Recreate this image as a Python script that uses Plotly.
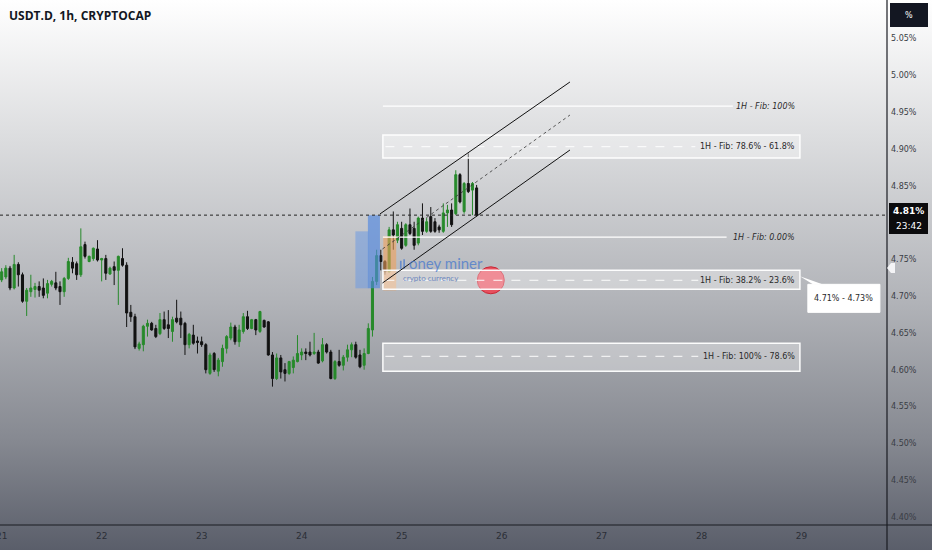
import base64
import plotly.graph_objects as go

# ---------------- data ----------------
title_text = "USDT.D, 1h, CRYPTOCAP"
day_labels = ["21", "22", "23", "24", "25", "26", "27", "28", "29"]
day_hours = [0, 24, 48, 72, 96, 120, 144, 168, 192]

opens = [4.722, 4.726, 4.738, 4.711, 4.743, 4.729, 4.693, 4.706, 4.709, 4.713,
         4.711, 4.704, 4.716, 4.718, 4.713, 4.706, 4.724, 4.746, 4.744, 4.729,
         4.770, 4.747, 4.751, 4.764, 4.749, 4.751, 4.730, 4.740, 4.735, 4.751,
         4.742, 4.678, 4.672, 4.629, 4.634, 4.659, 4.663, 4.656, 4.649, 4.668,
         4.661, 4.652, 4.670, 4.670, 4.663, 4.634, 4.647, 4.639, 4.638, 4.634,
         4.595, 4.622, 4.598, 4.611, 4.629, 4.643, 4.658, 4.638, 4.652, 4.672,
         4.656, 4.668, 4.652, 4.667, 4.665, 4.620, 4.588, 4.616, 4.600, 4.595,
         4.603, 4.611, 4.620, 4.624, 4.624, 4.622, 4.624, 4.612, 4.634, 4.624,
         4.588, 4.611, 4.606, 4.617, 4.627, 4.634, 4.620, 4.606, 4.622, 4.654,
         4.720, 4.755, 4.747, 4.733, 4.790, 4.776, 4.792, 4.769, 4.797, 4.792,
         4.772, 4.806, 4.788, 4.808, 4.801, 4.794, 4.788, 4.813, 4.817, 4.812,
         4.865, 4.815, 4.853, 4.844, 4.847]
highs = [4.738, 4.742, 4.741, 4.756, 4.746, 4.732, 4.711, 4.729, 4.718, 4.720,
         4.724, 4.722, 4.722, 4.733, 4.720, 4.726, 4.752, 4.753, 4.747, 4.792,
         4.774, 4.755, 4.766, 4.776, 4.752, 4.756, 4.740, 4.747, 4.755, 4.765,
         4.746, 4.688, 4.676, 4.638, 4.661, 4.668, 4.665, 4.661, 4.677, 4.679,
         4.681, 4.672, 4.695, 4.679, 4.665, 4.650, 4.661, 4.645, 4.645, 4.636,
         4.623, 4.624, 4.616, 4.634, 4.647, 4.664, 4.661, 4.661, 4.677, 4.680,
         4.669, 4.669, 4.680, 4.668, 4.666, 4.624, 4.622, 4.620, 4.609, 4.612,
         4.618, 4.647, 4.629, 4.629, 4.638, 4.650, 4.627, 4.643, 4.636, 4.627,
         4.613, 4.627, 4.620, 4.634, 4.637, 4.638, 4.627, 4.629, 4.663, 4.726,
         4.763, 4.763, 4.749, 4.794, 4.815, 4.801, 4.801, 4.799, 4.819, 4.801,
         4.808, 4.826, 4.806, 4.821, 4.806, 4.797, 4.826, 4.824, 4.826, 4.871,
         4.867, 4.855, 4.894, 4.855, 4.851]
lows = [4.719, 4.723, 4.708, 4.709, 4.713, 4.691, 4.673, 4.699, 4.698, 4.699,
        4.697, 4.697, 4.713, 4.708, 4.688, 4.699, 4.722, 4.731, 4.722, 4.726,
        4.751, 4.746, 4.748, 4.747, 4.720, 4.722, 4.729, 4.715, 4.688, 4.740,
        4.658, 4.665, 4.628, 4.626, 4.625, 4.645, 4.653, 4.643, 4.647, 4.654,
        4.643, 4.638, 4.663, 4.643, 4.620, 4.629, 4.634, 4.622, 4.631, 4.595,
        4.593, 4.597, 4.591, 4.604, 4.622, 4.640, 4.634, 4.631, 4.649, 4.654,
        4.655, 4.647, 4.650, 4.657, 4.619, 4.577, 4.586, 4.588, 4.584, 4.593,
        4.595, 4.610, 4.613, 4.613, 4.618, 4.620, 4.608, 4.610, 4.622, 4.587,
        4.586, 4.604, 4.599, 4.611, 4.617, 4.615, 4.602, 4.600, 4.621, 4.645,
        4.715, 4.735, 4.729, 4.732, 4.763, 4.772, 4.763, 4.767, 4.783, 4.763,
        4.769, 4.783, 4.786, 4.786, 4.786, 4.786, 4.786, 4.794, 4.794, 4.810,
        4.826, 4.812, 4.840, 4.810, 4.808]
closes = [4.733, 4.738, 4.711, 4.743, 4.729, 4.693, 4.708, 4.711, 4.713, 4.708,
          4.701, 4.717, 4.720, 4.711, 4.706, 4.724, 4.747, 4.738, 4.729, 4.767,
          4.754, 4.754, 4.765, 4.749, 4.751, 4.731, 4.738, 4.735, 4.754, 4.742,
          4.677, 4.672, 4.631, 4.635, 4.659, 4.663, 4.654, 4.645, 4.668, 4.656,
          4.656, 4.668, 4.665, 4.661, 4.634, 4.648, 4.636, 4.637, 4.634, 4.600,
          4.620, 4.600, 4.613, 4.629, 4.645, 4.658, 4.638, 4.654, 4.672, 4.656,
          4.668, 4.654, 4.679, 4.658, 4.620, 4.588, 4.616, 4.597, 4.595, 4.611,
          4.613, 4.622, 4.624, 4.622, 4.620, 4.624, 4.609, 4.634, 4.624, 4.588,
          4.611, 4.606, 4.617, 4.627, 4.634, 4.617, 4.604, 4.622, 4.656, 4.720,
          4.755, 4.747, 4.733, 4.790, 4.783, 4.797, 4.765, 4.797, 4.785, 4.769,
          4.806, 4.788, 4.801, 4.788, 4.788, 4.790, 4.813, 4.817, 4.797, 4.865,
          4.828, 4.853, 4.842, 4.853, 4.810]
hours = list(range(len(opens)))

# 4.80% sits under the last-price tag in the reference, so it is not listed
price_ticks = [4.40, 4.45, 4.50, 4.55, 4.60, 4.65, 4.70, 4.75, 4.85, 4.90, 4.95, 5.00, 5.05]
price_tick_text = [f"{v:.2f}%" for v in price_ticks]
last_price = 4.81
last_price_label = "4.81%"
countdown_label = "23:42"

# fib drawing levels (price) and labels
fib_line_levels = [4.958, 4.780]
fib_line_labels = ["1H - Fib: 100%", "1H - Fib: 0.00%"]
fib_line_end = [175.5, 174.0]
fib_zone_low = [4.8876, 4.7093, 4.5979]
fib_zone_high = [4.9189, 4.7351, 4.6359]
fib_zone_mid = [4.9030, 4.7215, 4.6182]
fib_zone_labels = ["1H - Fib: 78.6% - 61.8%", "1H - Fib: 38.2% - 23.6%", "1H - Fib: 100% - 78.6%"]
fib_zone_dash_end = [166.5, 167.2, 167.2]
fib_x_start = 91.5
fib_x_end = 191.6
fib_label_x = 190.9

# parallel channel
channel_x = [90.8, 136.4]
channel_upper = [4.8116, 4.9909]
channel_mid = [4.7640, 4.9460]
channel_lower = [4.7178, 4.8985]

# target marker and callout
target_x = [117.4]
target_y = [4.7215]
callout_text = "4.71% - 4.73%"

# ---------------- figure ----------------
W, H = 932, 550
ML, MR, MT, MB = 0, 45, 0, 25
PW, PH = W - ML - MR, H - MT - MB

fig = go.Figure()

fig.add_trace(go.Candlestick(
    x=hours, open=opens, high=highs, low=lows, close=closes,
    increasing=dict(line=dict(color="#278a2b", width=1), fillcolor="#278a2b"),
    decreasing=dict(line=dict(color="#121212", width=1), fillcolor="#121212"),
    whiskerwidth=0, showlegend=False, hoverinfo="skip",
))

# red target circle
fig.add_trace(go.Scatter(
    x=target_x, y=target_y, mode="markers", showlegend=False, hoverinfo="skip",
    marker=dict(size=27, color="rgba(236,72,86,0.92)", line=dict(color="rgba(200,40,55,1)", width=1)),
))

# background gradient (svg data uri)
svg = ('<svg xmlns="http://www.w3.org/2000/svg" width="10" height="550" viewBox="0 0 10 550" '
       'preserveAspectRatio="none"><defs><linearGradient id="g" x1="0" y1="0" x2="0" y2="1">'
       '<stop offset="0" stop-color="#ffffff"/><stop offset="0.25" stop-color="#dcdddf"/>'
       '<stop offset="0.55" stop-color="#b1b3b8"/><stop offset="0.8" stop-color="#868991"/>'
       '<stop offset="1" stop-color="#5a5e6a"/>'
       '</linearGradient></defs><rect width="10" height="550" fill="url(#g)"/></svg>')
uri = "data:image/svg+xml;base64," + base64.b64encode(svg.encode()).decode()
fig.add_layout_image(dict(source=uri, xref="paper", yref="paper", x=0, y=1,
                          sizex=W / PW, sizey=H / PH, xanchor="left", yanchor="top",
                          sizing="stretch", layer="below"))

shapes = []
# logo watermark
shapes.append(dict(type="rect", x0=84.9, x1=88.0, y0=4.7106, y1=4.7880, xref="x", yref="y",
                   fillcolor="rgba(110,155,225,0.55)", line=dict(width=0), layer="above"))
shapes.append(dict(type="rect", x0=87.9, x1=90.8, y0=4.7106, y1=4.8098, xref="x", yref="y",
                   fillcolor="rgba(80,135,225,0.65)", line=dict(width=0), layer="above"))
shapes.append(dict(type="rect", x0=91.6, x1=94.7, y0=4.7077, y1=4.7812, xref="x", yref="y",
                   fillcolor="rgba(240,160,90,0.6)", line=dict(width=0), layer="above"))
shapes.append(dict(type="rect", x0=95.6, x1=96.0, y0=4.7370, y1=4.7480, xref="x", yref="y",
                   fillcolor="rgba(70,120,205,0.7)", line=dict(width=0), layer="above"))
shapes.append(dict(type="rect", x0=96.4, x1=96.8, y0=4.7370, y1=4.7500, xref="x", yref="y",
                   fillcolor="rgba(70,120,205,0.7)", line=dict(width=0), layer="above"))

# last price dotted line
shapes.append(dict(type="line", xref="paper", yref="y", x0=0, x1=1, y0=last_price, y1=last_price,
                   line=dict(color="#222", width=1, dash="dot"), layer="above"))

# fib zones
for lo, hi, mid, dend in zip(fib_zone_low, fib_zone_high, fib_zone_mid, fib_zone_dash_end):
    shapes.append(dict(type="rect", xref="x", yref="y", x0=fib_x_start, x1=fib_x_end, y0=lo, y1=hi,
                       fillcolor="rgba(255,255,255,0.35)", line=dict(color="rgba(255,255,255,0.95)", width=1.5),
                       layer="above"))
    shapes.append(dict(type="line", xref="x", yref="y", x0=fib_x_start + 0.6, x1=dend, y0=mid, y1=mid,
                       line=dict(color="rgba(255,255,255,0.95)", width=1, dash="dash"), layer="above"))
# fib single lines
for lvl, xend in zip(fib_line_levels, fib_line_end):
    shapes.append(dict(type="line", xref="x", yref="y", x0=fib_x_start, x1=xend, y0=lvl, y1=lvl,
                       line=dict(color="rgba(255,255,255,1)", width=1.2), layer="above"))

# channel
shapes.append(dict(type="line", xref="x", yref="y", x0=channel_x[0], x1=channel_x[1],
                   y0=channel_upper[0], y1=channel_upper[1], line=dict(color="#111", width=1), layer="above"))
shapes.append(dict(type="line", xref="x", yref="y", x0=channel_x[0] + 0.6, x1=channel_x[1],
                   y0=channel_lower[0], y1=channel_lower[1], line=dict(color="#111", width=1), layer="above"))
shapes.append(dict(type="line", xref="x", yref="y", x0=channel_x[0] + 0.6, x1=channel_x[1],
                   y0=channel_mid[0], y1=channel_mid[1], line=dict(color="#333", width=0.8, dash="dot"),
                   layer="above"))

# callout bubble (box + pointer)
cx0, cx1 = 193.5, 210.8
shapes.append(dict(type="path", xref="x", yref="y",
                   path=f"M {fib_x_end} 4.7270 L {cx0 + 1.2} 4.7160 L {cx0 + 3.5} 4.7160 Z",
                   fillcolor="white", line=dict(width=0), layer="above"))
shapes.append(dict(type="rect", xref="x", yref="y", x0=cx0, x1=cx1, y0=4.6779, y1=4.7160,
                   fillcolor="white", line=dict(color="white", width=1), layer="above"))

# axis lines extended
shapes.append(dict(type="line", xref="paper", yref="paper", x0=0, x1=W / PW, y0=0, y1=0,
                   line=dict(color="#1a1c22", width=1.2)))
shapes.append(dict(type="line", xref="paper", yref="paper", x0=1, x1=1, y0=-MB / PH, y1=1,
                   line=dict(color="#1a1c22", width=1.2)))
# "%" box and price label box
shapes.append(dict(type="rect", xref="paper", yref="paper", x0=890 / PW, x1=928 / PW,
                   y0=1 - 27 / PH, y1=1 - 3 / PH, fillcolor="#131722", line=dict(width=0)))
shapes.append(dict(type="rect", xref="paper", yref="paper", x0=889 / PW, x1=928 / PW,
                   y0=1 - 234 / PH, y1=1 - 203 / PH, fillcolor="#0b0b0d", line=dict(width=0)))
# small white axis tag
shapes.append(dict(type="path", xref="paper", yref="paper",
                   path=f"M {887 / PW} {1 - 268 / PH} L {891 / PW} {1 - 263 / PH} L {895 / PW} {1 - 263 / PH} "
                        f"L {895 / PW} {1 - 273 / PH} L {891 / PW} {1 - 273 / PH} Z",
                   fillcolor="#f4f4f6", line=dict(width=0)))

annotations = []
annotations.append(dict(text=f"<b>{title_text}</b>", xref="paper", yref="paper", x=7 / PW, y=1 - 16 / PH,
                        xanchor="left", yanchor="middle", showarrow=False,
                        font=dict(family="Open Sans", size=12, color="#131722")))
for lvl, lab in zip(fib_line_levels, fib_line_labels):
    annotations.append(dict(text=f"<i>{lab}</i>", x=fib_label_x, y=lvl, xref="x", yref="y",
                            xanchor="right", yanchor="middle", showarrow=False,
                            font=dict(family="DejaVu Sans", size=8, color="#2a2a2a")))
for mid, lab in zip(fib_zone_mid, fib_zone_labels):
    annotations.append(dict(text=lab, x=fib_label_x, y=mid, xref="x", yref="y",
                            xanchor="right", yanchor="middle", showarrow=False,
                            font=dict(family="DejaVu Sans", size=8, color="#2a2a2a")))
annotations.append(dict(text=callout_text, x=(cx0 + cx1) / 2, y=4.6970, xref="x", yref="y",
                        xanchor="center", yanchor="middle", showarrow=False,
                        font=dict(family="DejaVu Sans", size=8, color="#2a2a2a")))
annotations.append(dict(text="oney miner", x=97.2, y=4.7455, xref="x", yref="y", xanchor="left",
                        yanchor="middle", showarrow=False,
                        font=dict(family="Lato", size=15, color="rgba(70,120,205,0.75)")))
annotations.append(dict(text="crypto currency", x=95.8, y=4.7245, xref="x", yref="y", xanchor="left",
                        yanchor="middle", showarrow=False,
                        font=dict(family="Lato", size=8, color="rgba(80,115,185,0.8)")))
annotations.append(dict(text="%", xref="paper", yref="paper", x=909 / PW, y=1 - 15 / PH,
                        xanchor="center", yanchor="middle", showarrow=False,
                        font=dict(family="DejaVu Sans", size=8, color="#ffffff")))
annotations.append(dict(text=f"<b>{last_price_label}</b>", xref="paper", yref="paper", x=908.5 / PW,
                        y=1 - 211 / PH, xanchor="center", yanchor="middle", showarrow=False,
                        font=dict(family="DejaVu Sans", size=9, color="#ffffff")))
annotations.append(dict(text=countdown_label, xref="paper", yref="paper", x=908.5 / PW,
                        y=1 - 226 / PH, xanchor="center", yanchor="middle", showarrow=False,
                        font=dict(family="DejaVu Sans", size=9, color="#ffffff")))

fig.update_layout(
    width=W, height=H, margin=dict(l=ML, r=MR, t=MT, b=MB, autoexpand=False),
    paper_bgcolor="#b5b7bc", plot_bgcolor="rgba(0,0,0,0)",
    shapes=shapes, annotations=annotations, showlegend=False,
    xaxis=dict(range=[-0.4, 212.5], tickvals=day_hours, ticktext=day_labels, showgrid=False,
               zeroline=False, showline=False, ticks="", rangeslider=dict(visible=False),
               automargin=False, ticklabeloverflow="allow", ticklabelstandoff=4,
               tickfont=dict(family="DejaVu Sans", size=9, color="#2b2e36")),
    yaxis=dict(range=[4.389, 5.1023], side="right", tickvals=price_ticks, ticktext=price_tick_text,
               showgrid=False, zeroline=False, showline=False, ticks="",
               automargin=False, ticklabelstandoff=3,
               tickfont=dict(family="DejaVu Sans", size=8, color="#3a3d45")),
)

fig.write_html("out.html", config={"displayModeBar": False},
               post_script="document.body.style.margin='0';document.body.style.overflow='hidden';")
